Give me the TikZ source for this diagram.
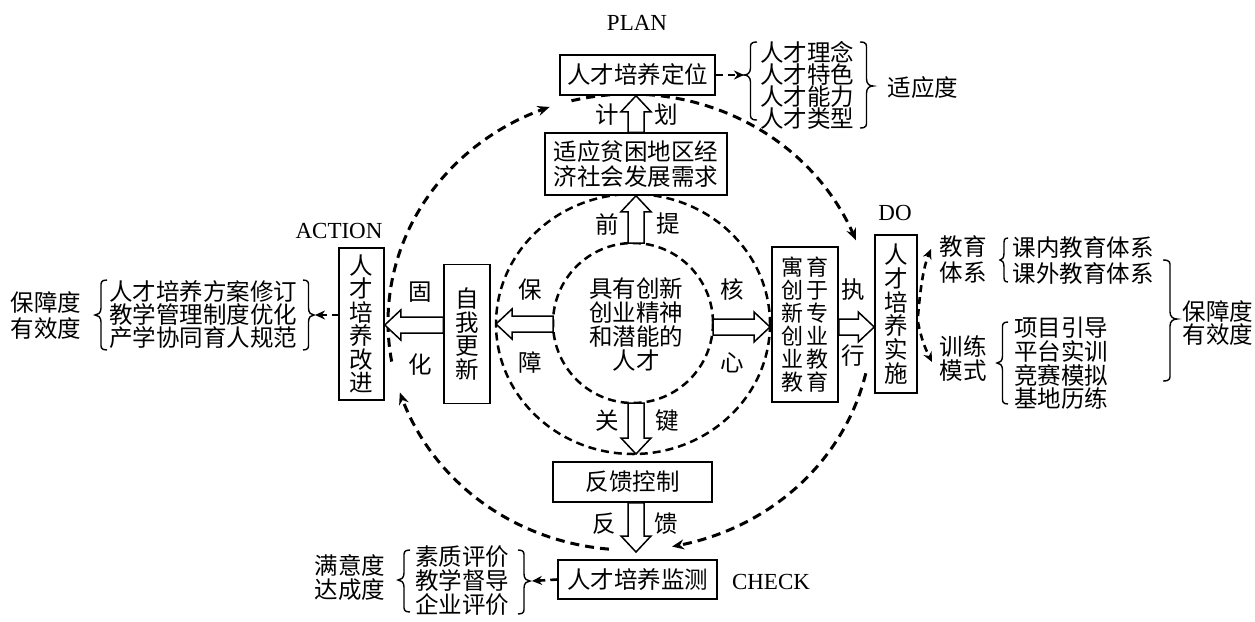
\documentclass[tikz,border=0pt]{standalone}
\usepackage{fontspec}
\setmainfont{Noto Sans CJK SC}
\newfontfamily\tnr{Liberation Serif}
\usetikzlibrary{calc,arrows.meta}

\newcommand{\hollowarrow}[2]{%
  \coordinate (hahead) at ($(#2)!16pt!(#1)$);
  \draw[harrow] ($(#1)!8pt!90:(#2)$) -- ($(hahead)!8pt!-90:(#1)$) -- ($(hahead)!15pt!-90:(#1)$) -- (#2) -- ($(hahead)!15pt!90:(#1)$) -- ($(hahead)!8pt!90:(#1)$) -- ($(#1)!8pt!-90:(#2)$) -- cycle;}

% tip x, top y, bottom y, tip y, width (positive: "{", negative: "}")
\newcommand{\cbrace}[5]{%
  \draw[brc] ({#1+#5},{#2}) .. controls ({#1+0.45*#5},{#2}) and ({#1+0.5*#5},{#2+3}) .. ({#1+0.5*#5},{#2+7})
   -- ({#1+0.5*#5},{#4-7}) .. controls ({#1+0.5*#5},{#4-2}) and ({#1+0.25*#5},{#4}) .. ({#1},{#4})
   .. controls ({#1+0.25*#5},{#4}) and ({#1+0.5*#5},{#4+2}) .. ({#1+0.5*#5},{#4+7})
   -- ({#1+0.5*#5},{#3-7}) .. controls ({#1+0.5*#5},{#3-3}) and ({#1+0.45*#5},{#3}) .. ({#1+#5},{#3});}

\begin{document}
\begin{tikzpicture}[x=1pt,y=-1pt,
  cjk/.style={font=\fontsize{23.5}{23.5}\selectfont},
  box/.style={draw, line width=1.5pt, fill=white, inner sep=0pt, align=center, cjk},
  lbl/.style={inner sep=0pt, cjk},
  en/.style={inner sep=0pt, font=\tnr\fontsize{23}{23}\selectfont},
  harrow/.style={draw, line width=1.5pt, fill=white, line join=miter},
  brc/.style={line width=1.4pt},
  outer/.style={line width=3pt, dash pattern=on 9pt off 6pt},
  ring/.style={line width=2.5pt, dash pattern=on 8pt off 5pt},
  arrtip/.style={-{Stealth[length=12pt,width=10pt]}},
  dasharr/.style={line width=2.6pt, dash pattern=on 7pt off 5pt, -{Stealth[length=10pt,width=9pt]}}
]
\useasboundingbox (0,0) rectangle (1255,621);

% rings
\draw[ring] (633,324) ellipse [x radius=137, y radius=130];
\draw[ring] (633,323) circle [radius=80];

% outer cycle arcs
\draw[outer, arrtip] plot[domain=170:250.6, samples=60] ({630+242*cos(\x)},{322+228*sin(\x)});
\draw[outer, arrtip] plot[domain=256:339, samples=60] ({630+242*cos(\x)},{322+228*sin(\x)});
\draw[outer, arrtip] plot[domain=13:80, samples=60] ({630+242*cos(\x)},{322+228*sin(\x)});
\draw[outer, arrtip] plot[domain=95:162, samples=60] ({630+242*cos(\x)},{322+228*sin(\x)});

% boxes
\node[box, minimum width=155pt, minimum height=40pt] (plan) at (637.5,75) {人才培养定位};
\node[box, minimum width=182pt, minimum height=62pt, font=\fontsize{23.5}{25}\selectfont] (need) at (636,164) {适应贫困地区经\\济社会发展需求};
\node[box, minimum width=159pt, minimum height=40pt] (fk) at (632.5,482) {反馈控制};
\node[box, minimum width=159pt, minimum height=39pt] (jc) at (637.5,579.5) {人才培养监测};
\node[box, minimum width=45pt, minimum height=152pt, font=\fontsize{23.5}{23.4}\selectfont] (act) at (361.5,324) {人\\才\\培\\养\\改\\进};
\node[box, minimum width=46pt, minimum height=139pt, font=\fontsize{23.5}{23.7}\selectfont] (zw) at (467,334) {自\\我\\更\\新};
\node[box, minimum width=66pt, minimum height=155pt, font=\fontsize{22}{23}\selectfont] (yy) at (805,324.5) {寓\hspace{4pt}育\\创\hspace{4pt}于\\新\hspace{4pt}专\\创\hspace{4pt}业\\业\hspace{4pt}教\\教\hspace{4pt}育};
\node[box, minimum width=42pt, minimum height=158pt, font=\fontsize{23.5}{23.8}\selectfont] (do) at (896,314) {人\\才\\培\\养\\实\\施};

% centre
\node[inner sep=0pt, align=center, font=\fontsize{23.5}{24}\selectfont] (core) at (636,324) {具有创新\\创业精神\\和潜能的\\人才};

% coordinates for hollow arrows
\coordinate (needS) at (need.south);
\coordinate (needN) at (need.north);
\coordinate (planS) at (need.north |- plan.south);
\coordinate (innerN) at (636,243);
\coordinate (innerS) at (636,403);
\coordinate (midS) at (636,454);
\coordinate (fkS) at (needS |- fk.south);
\coordinate (outS) at (636,552);
\coordinate (innerE) at (713,327);
\coordinate (midE) at (770,327);
\coordinate (yyE) at (yy.east |- midE);
\coordinate (doW) at (do.west |- midE);
\coordinate (innerW) at (553,324);
\coordinate (midW) at (496,324);
\coordinate (zwW) at (zw.west |- 0,325);
\coordinate (actE) at (act.east |- 0,325);

\hollowarrow{needN}{planS}
\hollowarrow{innerN}{needS}
\hollowarrow{innerS}{midS}
\hollowarrow{fkS}{outS}
\hollowarrow{innerE}{midE}
\hollowarrow{yyE}{doW}
\hollowarrow{innerW}{midW}
\hollowarrow{zwW}{actE}

% arrow labels
\node[lbl] (l1) at (607,115) {计};
\node[lbl] (l2) at (666,115) {划};
\node[lbl] (l3) at (607,224) {前};
\node[lbl] (l4) at (668,224) {提};
\node[lbl] (l5) at (607,421) {关};
\node[lbl] (l6) at (667,421) {键};
\node[lbl] (l7) at (604,524) {反};
\node[lbl] (l8) at (666,524) {馈};
\node[lbl] (l9) at (420,292) {固};
\node[lbl] (l10) at (420,365) {化};
\node[lbl] (l11) at (530,290) {保};
\node[lbl] (l12) at (530,363) {障};
\node[lbl] (l13) at (732,290) {核};
\node[lbl] (l14) at (732,363) {心};
\node[lbl] (l15) at (853,290) {执};
\node[lbl] (l16) at (853,356) {行};

% PDCA labels
\node[en] (planlbl) at (637,23) {PLAN};
\node[en] (actlbl) at (339,231) {ACTION};
\node[en] (dolbl) at (895,213) {DO};
\node[en] (chklbl) at (771,582) {CHECK};

% top group
\coordinate (tlb) at (744,75);
\draw[dasharr] (plan.east) -- (tlb);
\cbrace{744}{42}{120}{75}{13}
\node[inner sep=0pt, align=center, font=\fontsize{23.5}{22}\selectfont] (toplist) at (807,85) {人才理念\\人才特色\\人才能力\\人才类型};
\cbrace{873}{42}{128}{86}{(-13)}
\node[lbl] (fit) at (923,88) {适应度};

% left group
\coordinate (actW) at (339,315);
\coordinate (lbr) at (315,315);
\draw[dasharr] (actW) -- (lbr);
\cbrace{314}{280}{350}{315}{(-11)}
\node[inner sep=0pt, align=center, font=\fontsize{23.5}{23}\selectfont] (leftlist) at (203,315) {人才培养方案修订\\教学管理制度优化\\产学协同育人规范};
\cbrace{95}{280}{350}{315}{12}
\node[inner sep=0pt, align=center, font=\fontsize{23.5}{26}\selectfont] (leftdeg) at (46,316) {保障度\\有效度};

% right group
\coordinate (doR1) at (918,316);
\coordinate (doR2) at (918,322);
\coordinate (eduTip) at (931,249);
\coordinate (trnTip) at (932,362);
\draw[dasharr] (doR1) .. controls (920,292) and (923,268) .. (eduTip);
\draw[dasharr] (doR2) .. controls (921,338) and (925,348) .. (trnTip);
\node[inner sep=0pt, align=center, font=\fontsize{23.5}{26}\selectfont] (edu) at (963,259) {教育\\体系};
\cbrace{1000}{238}{282}{260}{8}
\node[inner sep=0pt, align=center, font=\fontsize{23.5}{26}\selectfont] (edulist) at (1083,261) {课内教育体系\\课外教育体系};
\node[inner sep=0pt, align=center, font=\fontsize{23.5}{24}\selectfont] (trn) at (963,359) {训练\\模式};
\cbrace{997}{322}{404}{363}{11}
\node[inner sep=0pt, align=center, font=\fontsize{23.5}{23.6}\selectfont] (trnlist) at (1061,363.5) {项目引导\\平台实训\\竞赛模拟\\基地历练};
\cbrace{1177}{260}{381}{319}{(-14)}
\node[inner sep=0pt, align=center, font=\fontsize{23.5}{22.5}\selectfont] (rightdeg) at (1218,323) {保障度\\有效度};

% bottom group
\coordinate (bbr) at (532,581);
\draw[dasharr] (jc.west) -- (bbr);
\cbrace{530}{550}{614}{581}{(-12)}
\node[inner sep=0pt, align=center, font=\fontsize{23.5}{24}\selectfont] (botlist) at (462,581) {素质评价\\教学督导\\企业评价};
\cbrace{398}{550}{612}{580}{12}
\node[inner sep=0pt, align=center, font=\fontsize{23.5}{24}\selectfont] (botdeg) at (350,578) {满意度\\达成度};
\end{tikzpicture}
\end{document}
